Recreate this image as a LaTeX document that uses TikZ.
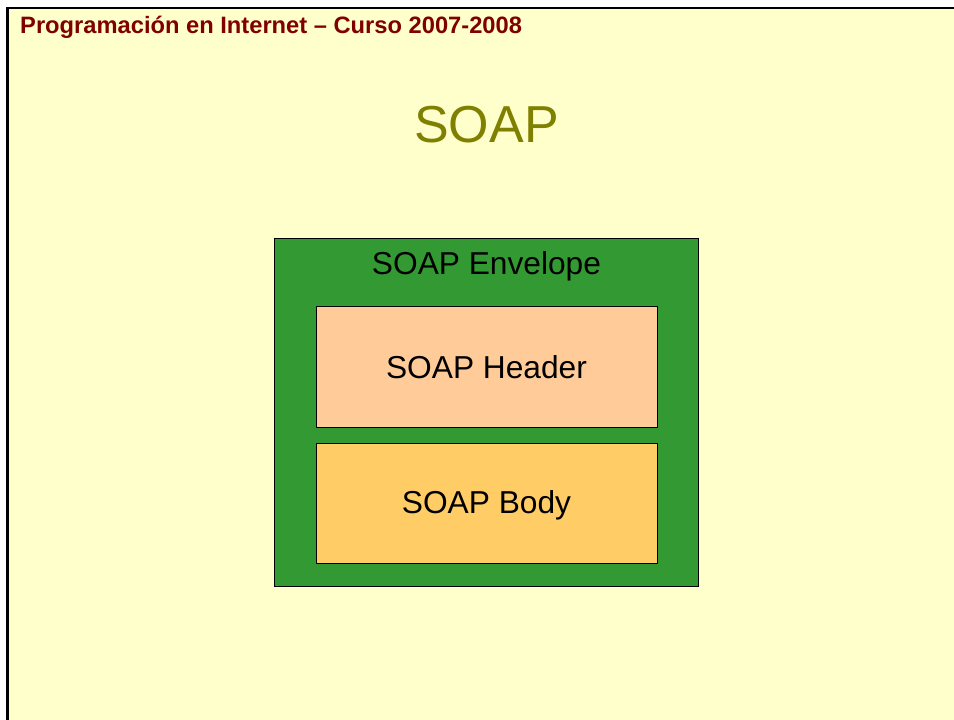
\documentclass[tikz,border=0pt]{standalone}
\usepackage{fontspec}
\setmainfont{Liberation Sans}
\definecolor{slidebg}{HTML}{FFFFCC}
\definecolor{headred}{HTML}{800000}
\definecolor{titleolive}{HTML}{808000}
\definecolor{envgreen}{HTML}{339933}
\definecolor{hdrfill}{HTML}{FFCC99}
\definecolor{bodyfill}{HTML}{FFCC66}
\tikzset{
  part/.style={draw=black, line width=1pt},
  lbl/.style={anchor=base, inner sep=0pt, text=black, font=\fontsize{31.7}{36}\selectfont},
}
\begin{document}
\begin{tikzpicture}[x=1pt, y=-1pt]
  \useasboundingbox (0,0) rectangle (954,720);
  \fill[white] (0,0) rectangle (954,720);
  \fill[slidebg] (7.5,8) rectangle (954,720);
  % slide frame: left and top edges
  \draw[line width=2.6pt, line cap=rect] (7.5,720) -- (7.5,8) -- (954,8);

  \node[anchor=base west, inner sep=0pt, text=headred,
        font=\bfseries\fontsize{23.7}{28}\selectfont] (course) at (20,34)
        {Programación en Internet – Curso 2007-2008};
  \node[anchor=base, inner sep=0pt, text=titleolive,
        font=\fontsize{52}{60}\selectfont] (title) at (486.5,142) {SOAP};

  % envelope with header and body blocks
  \draw[part, fill=envgreen] (274.5,238.5) rectangle (698,586);
  \node[lbl] (envlabel) at (486.5,274) {SOAP Envelope};
  \draw[part, fill=hdrfill] (316.5,306.5) rectangle (657,427);
  \node[lbl] (hdrlabel) at (486.5,378) {SOAP Header};
  \draw[part, fill=bodyfill] (316.5,443.5) rectangle (657,563);
  \node[lbl] (bodylabel) at (486.5,513) {SOAP Body};
\end{tikzpicture}
\end{document}
